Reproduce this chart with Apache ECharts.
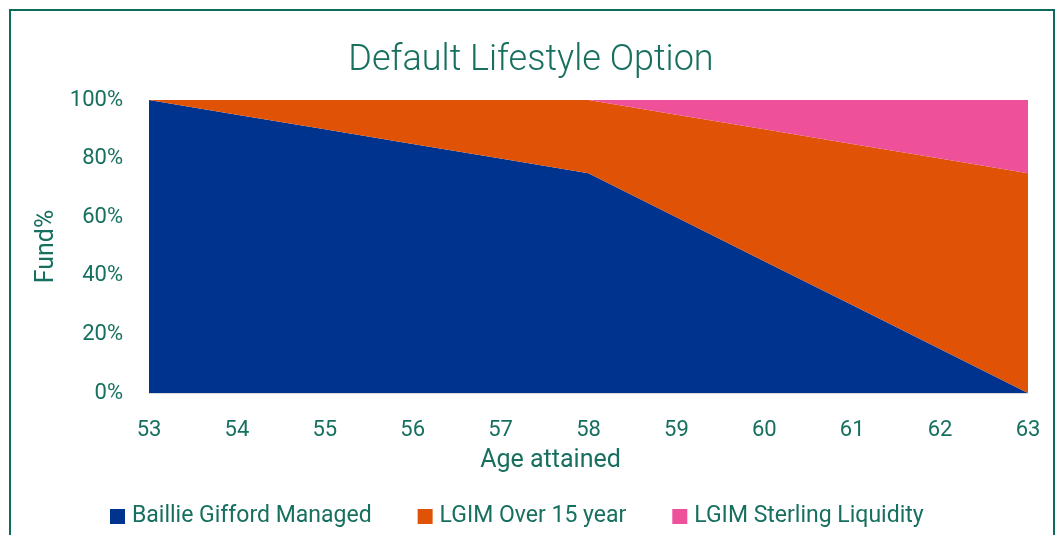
<!DOCTYPE html>
<html><head><meta charset="utf-8">
<script src="https://cdn.jsdelivr.net/npm/echarts@6/dist/echarts.min.js"></script>
<style>
html,body{margin:0;padding:0;background:#fff;overflow:hidden;}
#frame{position:absolute;left:9px;top:9px;width:1046px;height:600px;border:2px solid #0d6b5c;box-sizing:border-box;}
#c{position:absolute;left:0;top:0;width:1062px;height:535px;}
</style></head>
<body><div id="frame"></div><div id="c"></div>
<script>
const ages = ['53','54','55','56','57','58','59','60','61','62','63'];
const baillie = [100,95,90,85,80,75,60,45,30,15,0];
const lgimOver15 = [0,5,10,15,20,25,35,45,55,65,75];
const lgimSterling = [0,0,0,0,0,0,5,10,15,20,25];
const yTicks = ['0%','20%','40%','60%','80%','100%'];

const teal = '#17705f';
const font = 'Roboto';
const chart = echarts.init(document.getElementById('c'));
function area(name, data, color){
  return {name, type:'line', stack:'all', data, symbol:'none', lineStyle:{width:0},
    itemStyle:{color}, areaStyle:{color, opacity:1}};
}
chart.setOption({
  animation:false,
  title:{text:'Default Lifestyle Option', left:'center', top:38,
    textStyle:{color:teal, fontFamily:font, fontWeight:300, fontSize:36}},
  grid:{left:149, right:34, top:100, bottom:142},
  legend:{left:105, top:500, itemWidth:15, itemHeight:15, itemGap:46, icon:'rect',
    textStyle:{color:teal, fontFamily:font, fontSize:23, padding:[0,0,0,2]},
    data:['Baillie Gifford Managed','LGIM Over 15 year','LGIM Sterling Liquidity']},
  xAxis:{type:'category', data:ages, boundaryGap:false,
    name:'Age attained', nameLocation:'middle', nameGap:55,
    nameTextStyle:{color:teal, fontFamily:font, fontSize:25, padding:[0,76,0,0]},
    axisLine:{show:true, lineStyle:{color:'#d9d9d9', width:1}},
    axisTick:{show:false},
    axisLabel:{color:teal, fontFamily:font, fontSize:22, margin:26}},
  yAxis:{type:'value', min:0, max:100, interval:20,
    name:'Fund%', nameLocation:'middle', nameGap:87,
    nameTextStyle:{color:teal, fontFamily:font, fontSize:25},
    axisLine:{show:false}, axisTick:{show:false}, splitLine:{show:false},
    axisLabel:{color:teal, fontFamily:font, fontSize:22, margin:26,
      formatter:(v)=>yTicks[Math.round(v/20)]}},
  series:[
    area('Baillie Gifford Managed', baillie, '#00338d'),
    area('LGIM Over 15 year', lgimOver15, '#e05206'),
    area('LGIM Sterling Liquidity', lgimSterling, '#ef509a')
  ]
});
</script></body></html>
